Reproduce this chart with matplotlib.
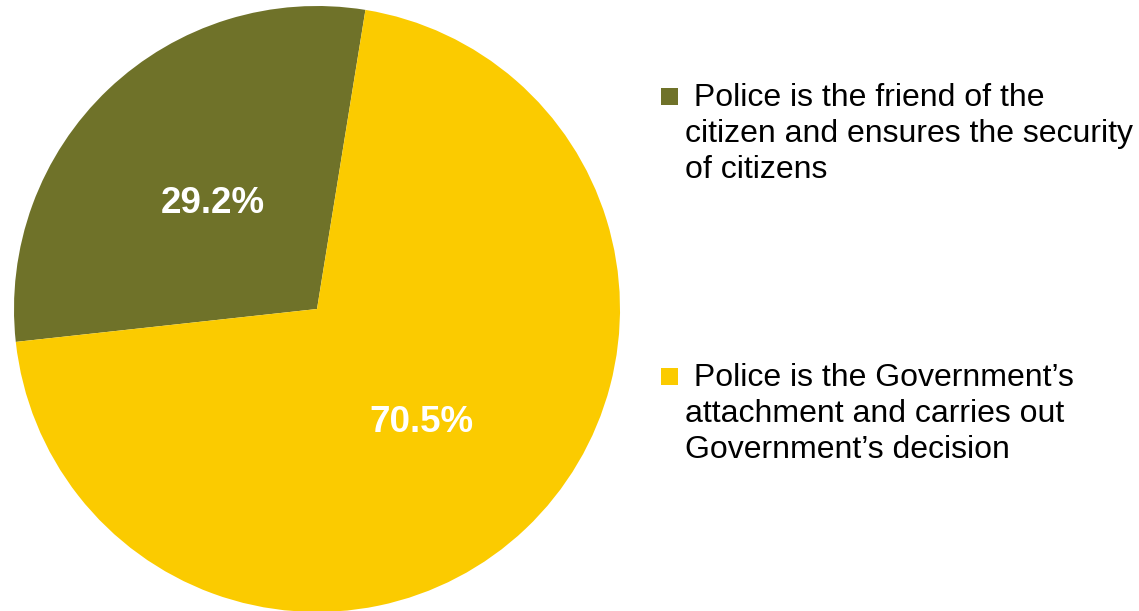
import matplotlib.pyplot as plt
from matplotlib.patches import Rectangle

# Survey shares (percent)
labels = [
    " Police is the friend of the\ncitizen and ensures the security\nof citizens",
    " Police is the Government\u2019s\nattachment and carries out\nGovernment\u2019s decision",
]
values = [29.2, 70.5]
colors = ["#6F7229", "#FBCB00"]

W, H = 1139, 611
plt.rcParams["font.family"] = ["Liberation Sans", "DejaVu Sans"]

fig = plt.figure(figsize=(W / 100, H / 100), dpi=100)
fig.patch.set_facecolor("white")

# pie axes: centre (317, 309) px, radius 303 px
cx, cy, r = 317, 309, 303
ax = fig.add_axes([(cx - r) / W, (H - cy - r) / H, 2 * r / W, 2 * r / H])

total = sum(values)
wedges, _, autotexts = ax.pie(
    values,
    colors=colors,
    startangle=80.8,
    counterclock=True,
    autopct=lambda p: f"{p * total / 100:.1f}%",
    pctdistance=0.5,
    labels=["", ""],
    textprops={"color": "white", "fontsize": 26.5, "fontweight": "bold",
               "ha": "center", "va": "center_baseline"},
    wedgeprops={"linewidth": 0},
)
ax.set_xlim(-1, 1)
ax.set_ylim(-1, 1)
ax.set_aspect("equal")
ax.axis("off")

# legend drawn by hand to match the layout
square_tops = [88, 368]     # px from top
last_baselines = [178, 458]  # baseline of last text line, px from top
for lab, col, top, base in zip(labels, colors, square_tops, last_baselines):
    fig.patches.append(Rectangle((661 / W, 1 - (top + 17) / H), 17 / W, 17 / H,
                                 transform=fig.transFigure, facecolor=col,
                                 edgecolor="none"))
    fig.text(685 / W, 1 - base / H, lab, fontsize=23, color="black",
             ha="left", va="baseline", linespacing=1.25)

fig.savefig("out.png", dpi=100, facecolor="white")
